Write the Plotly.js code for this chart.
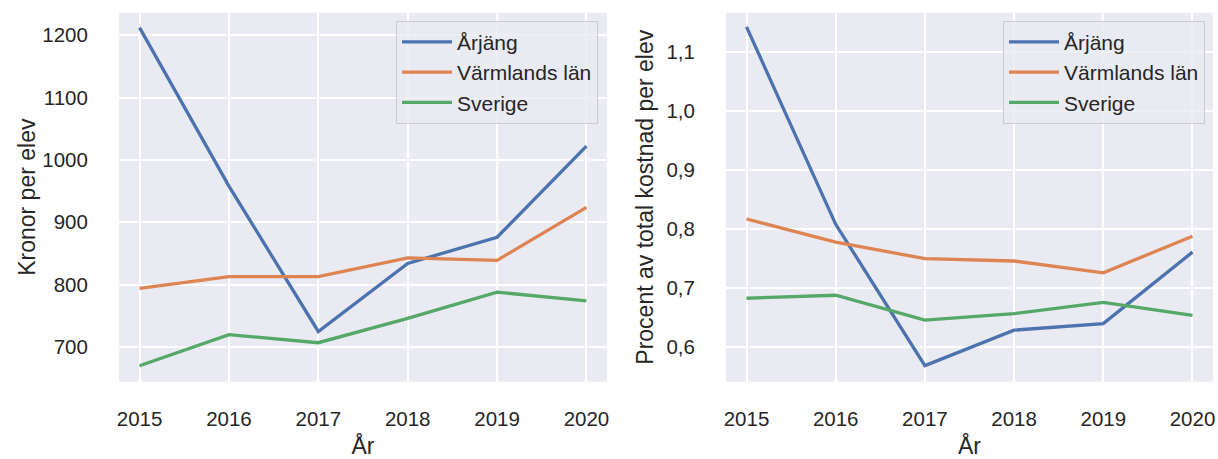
<!DOCTYPE html>
<html>
<head>
<meta charset="utf-8">
<script src="https://cdn.plot.ly/plotly-3.0.1.min.js"></script>
<style>html,body{margin:0;padding:0;background:#fff;}#chart{width:1218px;height:459px;}</style>
</head>
<body>
<div id="chart"></div>
<script>
// Data
const years = [2015, 2016, 2017, 2018, 2019, 2020];
const seriesNames = ["Årjäng", "Värmlands län", "Sverige"];
const kronorArjang = [1212, 958, 725, 834, 876, 1022];
const kronorVarmland = [794, 813, 813, 843, 839, 924];
const kronorSverige = [670, 720, 707, 746, 788, 774];
const procentArjang = [1.142, 0.808, 0.569, 0.629, 0.640, 0.761];
const procentVarmland = [0.817, 0.778, 0.750, 0.746, 0.726, 0.788];
const procentSverige = [0.683, 0.688, 0.646, 0.657, 0.676, 0.654];
const leftYLabel = "Kronor per elev";
const rightYLabel = "Procent av total kostnad per elev";
const xLabel = "År";

const colors = ["#4C72B0", "#DD8452", "#55A868"];
const fontFam = "Liberation Sans, Arial, Helvetica, sans-serif";
const txtColor = "#262626";

function mk(y, i, xa, ya, lg) {
  return {x: years, y: y, name: seriesNames[i], type: "scatter", mode: "lines",
    line: {color: colors[i], width: 3.3}, xaxis: xa, yaxis: ya, legend: lg,
    showlegend: true, hoverinfo: "skip"};
}
const traces = [
  mk(kronorArjang, 0, "x", "y", "legend"),
  mk(kronorVarmland, 1, "x", "y", "legend"),
  mk(kronorSverige, 2, "x", "y", "legend"),
  mk(procentArjang, 0, "x2", "y2", "legend2"),
  mk(procentVarmland, 1, "x2", "y2", "legend2"),
  mk(procentSverige, 2, "x2", "y2", "legend2")
];

const W = 1218, H = 459;
const yDom = [1 - 381.7 / H, 1 - 12.7 / H];
const xAxisCommon = {
  range: [2014.77, 2020.23], tickvals: years, showgrid: true, gridcolor: "#ffffff", gridwidth: 2,
  zeroline: false, showline: false, ticks: "outside", ticklen: 19, tickcolor: "rgba(0,0,0,0)",
  tickfont: {size: 20.5, color: txtColor, family: fontFam},
  title: {text: xLabel, font: {size: 23, color: txtColor, family: fontFam}, standoff: 14},
  automargin: false, fixedrange: true
};
const yAxisCommon = {
  showgrid: true, gridcolor: "#ffffff", gridwidth: 2, zeroline: false, showline: false,
  ticks: "outside", ticklen: 26, tickcolor: "rgba(0,0,0,0)",
  tickfont: {size: 20.5, color: txtColor, family: fontFam}, automargin: false, fixedrange: true
};
const legendCommon = {
  bgcolor: "rgba(234,234,242,0.8)", bordercolor: "#cccccc", borderwidth: 1,
  font: {size: 21, color: txtColor, family: fontFam}, xanchor: "right", yanchor: "top",
  y: 1 - 20.7 / H, tracegroupgap: 0, itemwidth: 50
};

const layout = {
  width: W, height: H, margin: {l: 0, r: 0, t: 0, b: 0}, paper_bgcolor: "#ffffff",
  plot_bgcolor: "#EAEAF2", separators: ",.", showlegend: true,
  font: {family: fontFam, color: txtColor},
  xaxis: Object.assign({}, xAxisCommon, {domain: [119 / W, 607 / W], anchor: "y"}),
  xaxis2: Object.assign({}, xAxisCommon, {domain: [726 / W, 1213 / W], anchor: "y2"}),
  yaxis: Object.assign({}, yAxisCommon, {domain: yDom, anchor: "x", range: [644.5, 1236],
    dtick: 100, tick0: 0,
    title: {text: leftYLabel, font: {size: 23, color: txtColor, family: fontFam}, standoff: 0}}),
  yaxis2: Object.assign({}, yAxisCommon, {domain: yDom, anchor: "x2", range: [0.5418, 1.166],
    dtick: 0.1, tick0: 0, tickformat: ".1f",
    title: {text: rightYLabel, font: {size: 23, color: txtColor, family: fontFam}, standoff: 6}}),
  legend: Object.assign({}, legendCommon, {x: 598 / W}),
  legend2: Object.assign({}, legendCommon, {x: 1205 / W})
};

Plotly.newPlot("chart", traces, layout, {displayModeBar: false, staticPlot: true});
</script>
</body>
</html>
